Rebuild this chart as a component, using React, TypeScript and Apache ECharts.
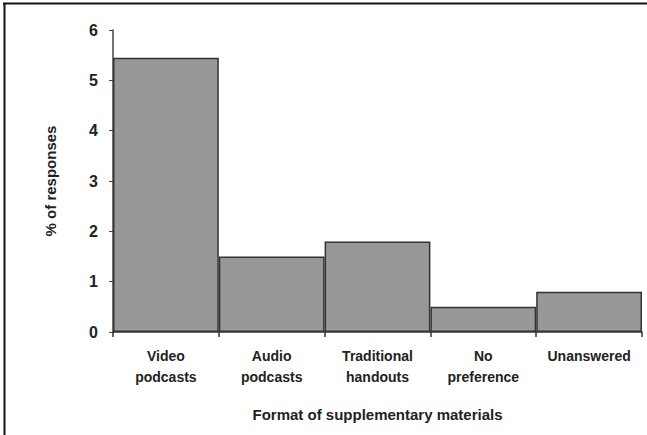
import React, { useEffect, useRef } from "react";
import * as echarts from "echarts";

const categories = ["Video\npodcasts", "Audio\npodcasts", "Traditional\nhandouts", "No\npreference", "Unanswered"];
const values = [5.45, 1.5, 1.8, 0.5, 0.8];
const yTicks = [0, 1, 2, 3, 4, 5, 6];

export default function App() {
  const ref = useRef<HTMLDivElement>(null);
  useEffect(() => {
    const chart = echarts.init(ref.current!, null, { renderer: "svg" });
    const font = "'Liberation Sans', Arial, sans-serif";
    chart.setOption({
      animation: false,
      backgroundColor: "#ffffff",
      grid: { left: 113, right: 5, top: 30, bottom: 103 },
      graphic: [
        { type: "line", shape: { x1: 3, y1: 3.5, x2: 647, y2: 3.5 }, style: { stroke: "#111", lineWidth: 2 } },
        { type: "line", shape: { x1: 4.5, y1: 3, x2: 4.5, y2: 435 }, style: { stroke: "#111", lineWidth: 2 } },
      ],
      xAxis: {
        type: "category",
        data: categories,
        boundaryGap: true,
        name: "Format of supplementary materials",
        nameLocation: "middle",
        nameGap: 75,
        nameTextStyle: { fontFamily: font, fontWeight: "bold", fontSize: 15, color: "#222" },
        axisLine: { lineStyle: { color: "#333", width: 1.5 } },
        axisTick: { show: true, length: 5, lineStyle: { color: "#333", width: 1.5 } },
        axisLabel: { fontFamily: font, fontWeight: "bold", fontSize: 14, color: "#222", lineHeight: 21, margin: 13, interval: 0 },
      },
      yAxis: {
        type: "value",
        min: yTicks[0],
        max: yTicks[yTicks.length - 1],
        interval: 1,
        name: "% of responses",
        nameLocation: "middle",
        nameGap: 55,
        nameTextStyle: { fontFamily: font, fontWeight: "bold", fontSize: 15, color: "#222" },
        axisLine: { show: true, lineStyle: { color: "#444", width: 1.5 } },
        axisTick: { show: true, length: 4, lineStyle: { color: "#444", width: 1 } },
        axisLabel: { fontFamily: font, fontWeight: "bold", fontSize: 16, color: "#222", margin: 15 },
        splitLine: { show: false },
      },
      series: [
        {
          type: "bar",
          data: values,
          barWidth: "100%",
          barCategoryGap: "0%",
          itemStyle: { color: "#989898", borderColor: "#333", borderWidth: 1.5 },
        },
      ],
    });
    return () => chart.dispose();
  }, []);
  return <div ref={ref} style={{ position: "fixed", left: 0, top: 0, width: 647, height: 435 }} />;
}
